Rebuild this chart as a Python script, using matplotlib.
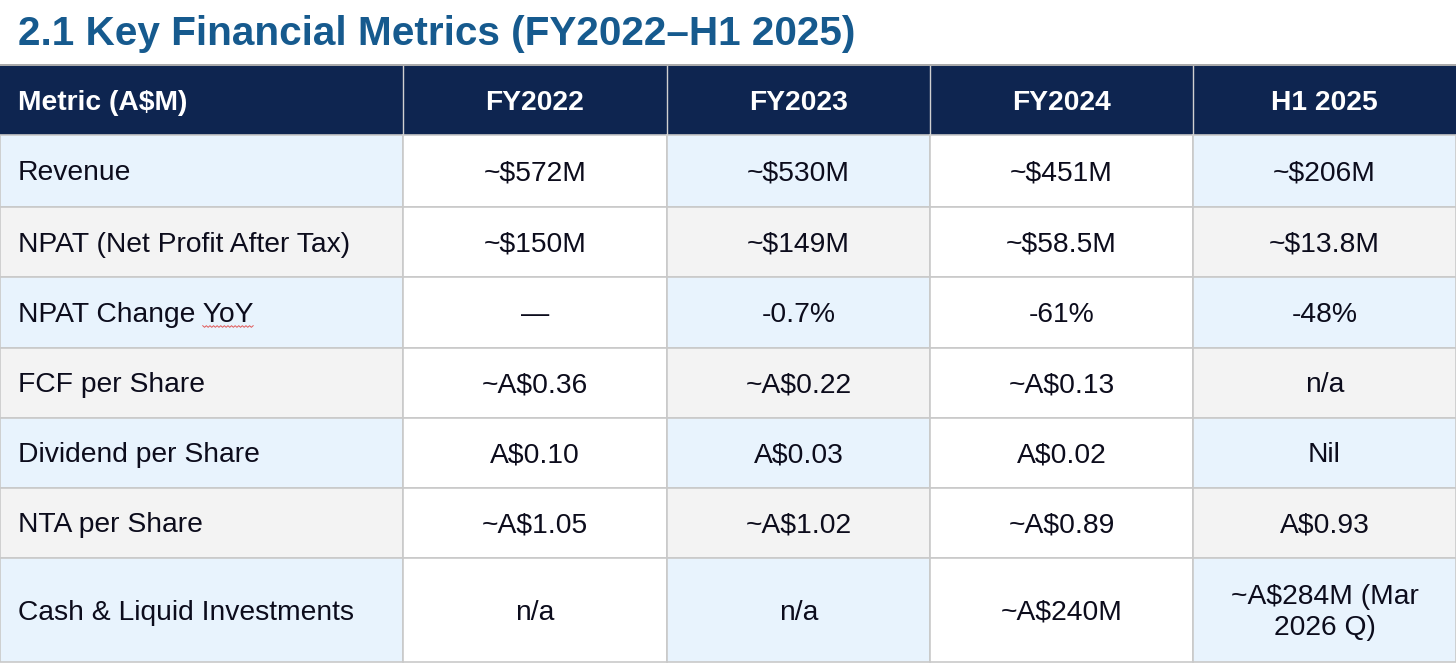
import numpy as np
import matplotlib.pyplot as plt
from matplotlib.patches import Rectangle

plt.rcParams['font.family'] = ['Liberation Sans', 'DejaVu Sans']

title = "2.1 Key Financial Metrics (FY2022\u2013H1 2025)"
columns = ["Metric (A$M)", "FY2022", "FY2023", "FY2024", "H1 2025"]
metrics = ["Revenue", "NPAT (Net Profit After Tax)", "NPAT Change YoY",
           "FCF per Share", "Dividend per Share", "NTA per Share",
           "Cash & Liquid Investments"]
fy2022 = ["~$572M", "~$150M", "\u2014", "~A$0.36", "A$0.10", "~A$1.05", "n/a"]
fy2023 = ["~$530M", "~$149M", "-0.7%", "~A$0.22", "A$0.03", "~A$1.02", "n/a"]
fy2024 = ["~$451M", "~$58.5M", "-61%", "~A$0.13", "A$0.02", "~A$0.89", "~A$240M"]
h1_2025 = ["~$206M", "~$13.8M", "-48%", "n/a", "Nil", "A$0.93",
           "~A$284M (Mar\n2026 Q)"]

# layout in pixels
W, H = 1456, 669
col_w = [403, 264, 263, 263, 263]
header_top, header_h = 66, 69
row_h = [72, 70, 71, 70, 70, 70, 104]

navy = "#0e2550"
blue = "#e8f3fd"
gray = "#f3f3f3"
line = "#c9c9c9"
text_c = "#0c0c1c"
fs = 20.3
dy = 2.5  # nudge text down a little

fig = plt.figure(figsize=(W / 100, H / 100), dpi=100)
ax = fig.add_axes([0, 0, 1, 1])
ax.set_xlim(0, W)
ax.set_ylim(H, 0)
ax.axis("off")

ax.text(18, 34, title, fontsize=29.2, fontweight="bold", color="#165a8e",
        va="center", ha="left")

col_x = [sum(col_w[:i]) for i in range(len(col_w))]

# header
ax.add_patch(Rectangle((0, header_top), W, header_h, facecolor=navy, edgecolor="none"))
ax.plot([0, W], [header_top - 1, header_top - 1], color="#9a9a9a", lw=1.2)
for i, c in enumerate(columns):
    if i > 0:
        ax.plot([col_x[i], col_x[i]], [header_top, header_top + header_h],
                color="#d0d0d0", lw=1)
    if i == 0:
        ax.text(col_x[i] + 18, header_top + header_h / 2 + dy, c, color="white",
                fontsize=fs, fontweight="bold", va="center", ha="left")
    else:
        ax.text(col_x[i] + col_w[i] / 2, header_top + header_h / 2 + dy, c, color="white",
                fontsize=fs, fontweight="bold", va="center", ha="center")

# body
y = header_top + header_h
table = list(zip(metrics, fy2022, fy2023, fy2024, h1_2025))
for r, row in enumerate(table):
    shade = blue if r % 2 == 0 else gray
    for i, val in enumerate(row):
        fc = shade if i % 2 == 0 else "white"
        ax.add_patch(Rectangle((col_x[i], y), col_w[i], row_h[r], facecolor=fc,
                               edgecolor=line, lw=1.2))
        if i == 0:
            t = ax.text(col_x[i] + 18, y + row_h[r] / 2 + dy, val, color=text_c,
                        fontsize=fs, va="center", ha="left")
            if val.endswith("YoY"):
                # spell-check squiggle under "YoY"
                fig.canvas.draw()
                rend = fig.canvas.get_renderer()
                full = t.get_window_extent(rend)
                probe = ax.text(0, 0, "YoY", fontsize=fs)
                wy = probe.get_window_extent(rend).width
                probe.remove()
                x1 = full.x1
                x0 = x1 - wy
                sx = np.arange(x0, x1 + 0.1, 1.8)
                sy = y + row_h[r] / 2 + 14 + np.where(np.arange(len(sx)) % 2 == 0, -0.8, 0.8)
                ax.plot(sx, sy, color="#e05a5a", lw=0.7)
        else:
            ax.text(col_x[i] + col_w[i] / 2, y + row_h[r] / 2 + dy, val, color=text_c,
                    fontsize=fs, va="center", ha="center", linespacing=1.25)
    y += row_h[r]

fig.savefig("out.png", dpi=100)
